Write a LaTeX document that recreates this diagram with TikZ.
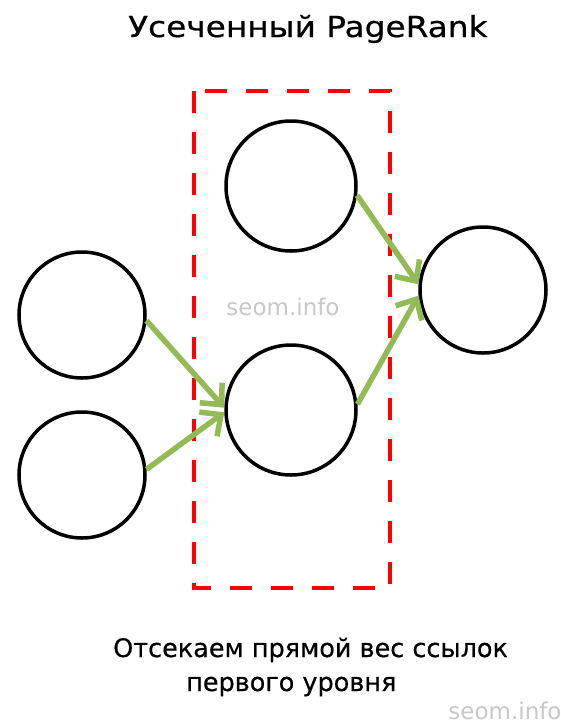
\documentclass[tikz,border=0pt]{standalone}
\usepackage{fontspec}
\setmainfont{DejaVu Sans}
\newfontfamily\titlefont[FakeStretch=1.13,FakeBold=0.6]{DejaVu Sans}
\newfontfamily\capfont[FakeBold=0.5]{DejaVu Sans}
\usetikzlibrary{arrows.meta}
\definecolor{lgreen}{HTML}{92BB55}
\definecolor{wm}{HTML}{C8C8C8}
\tikzset{
  pnode/.style={circle, draw=black, line width=3.5pt, minimum size=126pt, inner sep=0pt},
  link/.style={draw=lgreen, line width=5.5pt, -{Straight Barb[length=16pt,width=30pt,line width=5.5pt]}},
  cutbox/.style={draw=red, line width=4.5pt, dash pattern=on 22pt off 19pt},
  wmark/.style={text=wm, font=\fontsize{23}{26}\selectfont},
  caption/.style={font=\capfont\fontsize{25.5}{30}\selectfont, anchor=base west, inner sep=0pt}
}
\begin{document}
\begin{tikzpicture}[x=1pt,y=-1pt]
\useasboundingbox[fill=white] (0,0) rectangle (561,724);
\node[font=\titlefont\fontsize{29}{34}\selectfont, anchor=base west, inner sep=0pt] (title) at (128,37) {Усеченный PageRank};
\draw[cutbox] (194,91) rectangle (390,588);
\node[pnode] (l1) at (82,315) {};
\node[pnode] (l2) at (82,475) {};
\node[pnode, minimum size=130pt] (m1) at (291,186) {};
\node[pnode, minimum size=130pt] (m2) at (291,410) {};
\node[pnode] (r) at (483,290) {};
\node[wmark] (wm1) at (283,307) {seom.info};
\node[wmark] (wm2) at (505,711) {seom.info};
\draw[link] (l1.-5) -- (m2.178);
\draw[link] (l2.5) -- (m2.182);
\draw[link] (m1.-8) -- (r.175);
\draw[link] (m2.5) -- (r.185);
\node[caption] (t1) at (113,657) {Отсекаем прямой вес ссылок};
\node[caption] (t2) at (186,691) {первого уровня};
\end{tikzpicture}
\end{document}
